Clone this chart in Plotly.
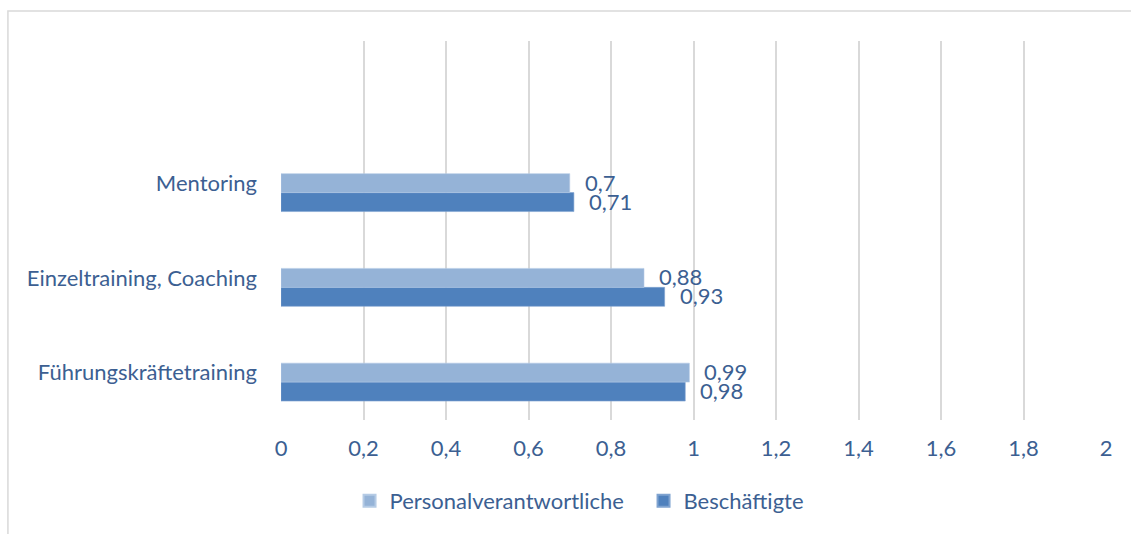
import plotly.graph_objects as go

categories = ["Führungskräftetraining", "Einzeltraining, Coaching", "Mentoring"]
personal = [0.99, 0.88, 0.7]
beschaeftigte = [0.98, 0.93, 0.71]
empty_series = [None, None, None]
tick_vals = [0, 0.2, 0.4, 0.6, 0.8, 1, 1.2, 1.4, 1.6, 1.8, 2]
tick_text = ["0", "0,2", "0,4", "0,6", "0,8", "1", "1,2", "1,4", "1,6", "1,8", "2"]

TXT = "#3C5F92"
FONT = "Lato"
FS = 22

def fmt(v):
    return ("%g" % v).replace(".", ",")

fig = go.Figure()
fig.add_trace(go.Bar(
    y=categories, x=beschaeftigte, orientation="h", name="Beschäftigte",
    marker=dict(color="#4F81BD", line=dict(color="#7FA3D0", width=0.6)),
    legendrank=2, hoverinfo="skip",
))
fig.add_trace(go.Bar(
    y=categories, x=personal, orientation="h", name="Personalverantwortliche",
    marker=dict(color="#95B3D7", line=dict(color="#B5CBE5", width=0.6)),
    legendrank=1, hoverinfo="skip",
))
fig.add_trace(go.Bar(
    y=categories, x=empty_series, orientation="h", name="",
    showlegend=False, hoverinfo="skip",
))

annotations = []
for c, v in zip(categories, personal):
    annotations.append(dict(x=v, y=c, xref="x", yref="y", text=fmt(v), showarrow=False,
                            xanchor="left", yanchor="middle", xshift=13, yshift=1,
                            font=dict(family=FONT, size=FS, color=TXT)))
for c, v in zip(categories, beschaeftigte):
    annotations.append(dict(x=v, y=c, xref="x", yref="y", text=fmt(v), showarrow=False,
                            xanchor="left", yanchor="middle", xshift=13, yshift=-18,
                            font=dict(family=FONT, size=FS, color=TXT)))

fig.update_layout(
    width=1131, height=534,
    margin=dict(l=281, r=25, t=41, b=114),
    paper_bgcolor="white", plot_bgcolor="white",
    barmode="group", bargap=0.4, bargroupgap=0,
    font=dict(family=FONT, size=FS, color=TXT),
    annotations=annotations,
    showlegend=True,
    legend=dict(orientation="h", xref="container", x=0.569, xanchor="center",
                yref="container", y=0.062, yanchor="middle",
                font=dict(family=FONT, size=FS, color=TXT),
                entrywidth=249, entrywidthmode="pixels",
                itemsizing="constant", traceorder="normal"),
    shapes=[dict(type="rect", xref="paper", yref="paper",
                 x0=-0.331, x1=1.2, y0=-0.5, y1=1.079,
                 line=dict(color="#D9D9D9", width=1.5), layer="below")],
)
fig.update_xaxes(range=[0, 2], tickvals=tick_vals, ticktext=tick_text,
                 showgrid=True, gridcolor="#D9D9D9", gridwidth=1.5,
                 zeroline=False, showline=False, ticks="",
                 ticklabelstandoff=13, tickfont=dict(family=FONT, size=FS, color=TXT))
fig.update_yaxes(type="category", categoryorder="array", categoryarray=categories,
                 range=[-0.5, 3.5], showgrid=False, zeroline=False, showline=False,
                 ticks="", ticklabelstandoff=23,
                 tickfont=dict(family=FONT, size=FS, color=TXT))

fig.write_html("out.html", config={"displayModeBar": False},
               post_script="document.body.style.margin='0';document.body.style.overflow='hidden';")
